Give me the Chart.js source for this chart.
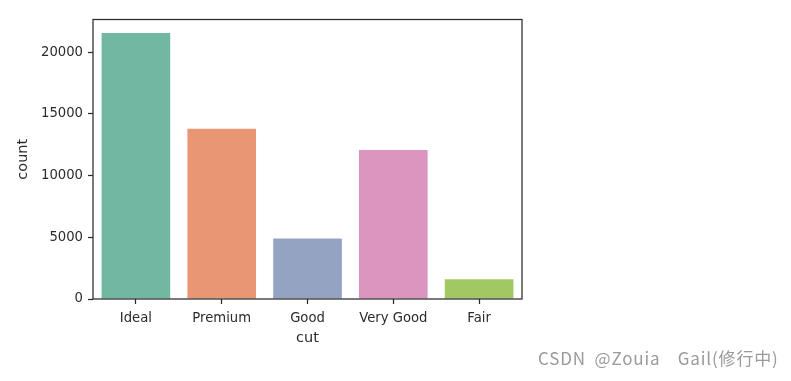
<!DOCTYPE html>
<html>
<head>
<meta charset="utf-8">
<script src="https://cdn.jsdelivr.net/npm/chart.js@4"></script>
<style>
html,body{margin:0;padding:0;background:#fff;}
#wrap{position:relative;width:791px;height:381px;}
#wm{position:absolute;left:538px;top:345px;font-family:"Noto Sans CJK SC",sans-serif;font-size:17px;letter-spacing:0.85px;word-spacing:4px;color:#9a9a9a;white-space:pre;}
</style>
</head>
<body>
<div id="wrap">
<canvas id="c" width="791" height="381"></canvas>
<div id="wm">CSDN @Zouia  Gail(修行中)</div>
</div>
<script>
const categories = ["Ideal", "Premium", "Good", "Very Good", "Fair"];
const counts = [21551, 13791, 4906, 12082, 1610];
const barColors = ["#71b7a1", "#e99675", "#95a3c3", "#db96c0", "#a2c864"];
const yTicks = [0, 5000, 10000, 15000, 20000];
const yMax = 22650;

const ink = "#2b2b2b";
const frame = {
  id: "frame",
  afterDraw(chart) {
    const a = chart.chartArea, ctx = chart.ctx;
    ctx.save();
    ctx.strokeStyle = ink;
    ctx.lineWidth = 1.25;
    ctx.strokeRect(a.left, a.top, a.right - a.left, a.bottom - a.top);
    ctx.restore();
  }
};

new Chart(document.getElementById("c"), {
  type: "bar",
  data: {
    labels: categories,
    datasets: [{
      data: counts,
      backgroundColor: barColors,
      borderWidth: 0,
      barPercentage: 0.8,
      categoryPercentage: 1.0
    }]
  },
  options: {
    responsive: false,
    animation: false,
    layout: { padding: { top: 19.5, right: 269, left: 0, bottom: 0 } },
    plugins: { legend: { display: false }, tooltip: { enabled: false } },
    scales: {
      x: {
        afterFit(s) { s.height = 82; },
        grid: { display: true, offset: false, drawOnChartArea: false, drawTicks: true, tickLength: 5, tickColor: ink, tickWidth: 1.25 },
        border: { display: false },
        ticks: { color: ink, font: { family: "DejaVu Sans", size: 13.2 }, padding: 7, maxRotation: 0 },
        title: { display: true, text: "cut", color: ink, font: { family: "DejaVu Sans", size: 14.5 }, padding: { top: 0, bottom: 34 } }
      },
      y: {
        min: 0,
        max: yMax,
        afterFit(s) { s.width = 93; },
        afterBuildTicks(s) { s.ticks = yTicks.map(v => ({ value: v })); },
        grid: { display: true, drawOnChartArea: false, drawTicks: true, tickLength: 5, tickColor: ink, tickWidth: 1.25 },
        border: { display: false },
        ticks: { color: ink, font: { family: "DejaVu Sans", size: 13.2 }, padding: 5, callback: v => String(v) },
        title: { display: true, text: "count", color: ink, font: { family: "DejaVu Sans", size: 14.5 }, padding: { top: 15, bottom: 0 } }
      }
    }
  },
  plugins: [frame]
});
</script>
</body>
</html>
